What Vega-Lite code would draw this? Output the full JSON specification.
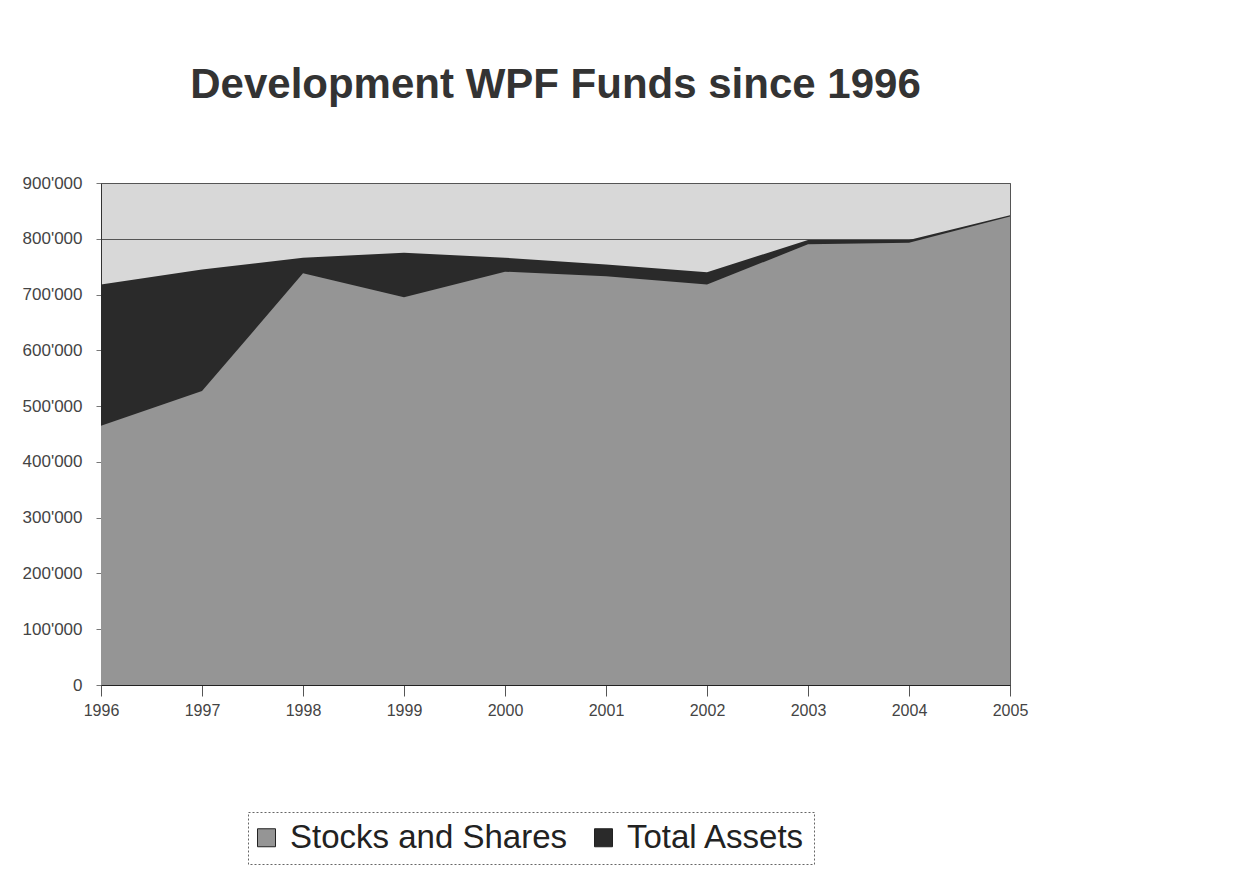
{
  "$schema": "https://vega.github.io/schema/vega-lite/v6.json",
  "autosize": {"type": "none"},
  "width": 909,
  "height": 502,
  "padding": {"left": 101, "top": 183, "right": 249, "bottom": 198},
  "background": "white",
  "title": {
    "text": "Development WPF Funds since 1996",
    "font": "Liberation Sans",
    "fontSize": 42,
    "fontWeight": "bold",
    "color": "#333333",
    "anchor": "middle",
    "offset": 67
  },
  "data": {
    "values": [
      {"year": 1996, "series": "Total Assets", "value": 718000},
      {"year": 1997, "series": "Total Assets", "value": 745000},
      {"year": 1998, "series": "Total Assets", "value": 766000},
      {"year": 1999, "series": "Total Assets", "value": 775000},
      {"year": 2000, "series": "Total Assets", "value": 766000},
      {"year": 2001, "series": "Total Assets", "value": 754000},
      {"year": 2002, "series": "Total Assets", "value": 740000},
      {"year": 2003, "series": "Total Assets", "value": 798000},
      {"year": 2004, "series": "Total Assets", "value": 798000},
      {"year": 2005, "series": "Total Assets", "value": 842000},
      {"year": 1996, "series": "Stocks and Shares", "value": 465000},
      {"year": 1997, "series": "Stocks and Shares", "value": 527000},
      {"year": 1998, "series": "Stocks and Shares", "value": 738000},
      {"year": 1999, "series": "Stocks and Shares", "value": 695000},
      {"year": 2000, "series": "Stocks and Shares", "value": 741000},
      {"year": 2001, "series": "Stocks and Shares", "value": 733000},
      {"year": 2002, "series": "Stocks and Shares", "value": 718000},
      {"year": 2003, "series": "Stocks and Shares", "value": 790000},
      {"year": 2004, "series": "Stocks and Shares", "value": 793000},
      {"year": 2005, "series": "Stocks and Shares", "value": 840000}
    ]
  },
  "encoding": {
    "x": {
      "field": "year",
      "type": "quantitative",
      "scale": {"domain": [1996, 2005], "nice": false, "zero": false},
      "axis": {
        "title": null,
        "values": [1996, 1997, 1998, 1999, 2000, 2001, 2002, 2003, 2004, 2005],
        "format": "d",
        "grid": false,
        "labelFlush": false,
        "labelFont": "Liberation Sans",
        "labelFontSize": 16,
        "labelColor": "#444444",
        "labelPadding": 6,
        "tickSize": 11,
        "tickColor": "#555555",
        "domainColor": "#222222"
      }
    },
    "y": {
      "field": "value",
      "type": "quantitative",
      "stack": null,
      "scale": {"domain": [0, 900000], "nice": false},
      "axis": {
        "title": null,
        "values": [0, 100000, 200000, 300000, 400000, 500000, 600000, 700000, 800000, 900000],
        "format": ",d",
        "grid": true,
        "gridColor": "#555555",
        "gridWidth": 1,
        "labelFont": "Liberation Sans",
        "labelFontSize": 17,
        "labelColor": "#444444",
        "labelPadding": 14,
        "tickSize": 5,
        "tickColor": "#777777",
        "domainColor": "#333333"
      }
    },
    "color": {
      "field": "series",
      "type": "nominal",
      "scale": {"domain": ["Stocks and Shares", "Total Assets"], "range": ["#959595", "#2a2a2a"]},
      "legend": {
        "title": null,
        "orient": "none",
        "legendX": 147,
        "legendY": 629,
        "direction": "horizontal",
        "symbolType": "square",
        "symbolSize": 324,
        "symbolOffset": -7,
        "symbolStrokeColor": "#222222",
        "symbolStrokeWidth": 1,
        "labelFont": "Liberation Sans",
        "labelFontSize": 33,
        "labelColor": "#222222",
        "labelLimit": 500,
        "labelOffset": 7,
        "columnPadding": 25,
        "padding": 9,
        "strokeColor": "#666666",
        "fillColor": "white"
      }
    }
  },
  "layer": [
    {
      "transform": [{"filter": "datum.series === 'Total Assets'"}],
      "mark": {"type": "area", "opacity": 1}
    },
    {
      "transform": [{"filter": "datum.series === 'Stocks and Shares'"}],
      "mark": {"type": "area", "opacity": 1}
    }
  ],
  "config": {
    "locale": {"number": {"decimal": ".", "thousands": "'", "grouping": [3], "currency": ["", ""]}},
    "view": {"fill": "#d8d8d8", "stroke": "#555555", "strokeWidth": 1},
    "legend": {"strokeDash": [2, 2]}
  }
}
